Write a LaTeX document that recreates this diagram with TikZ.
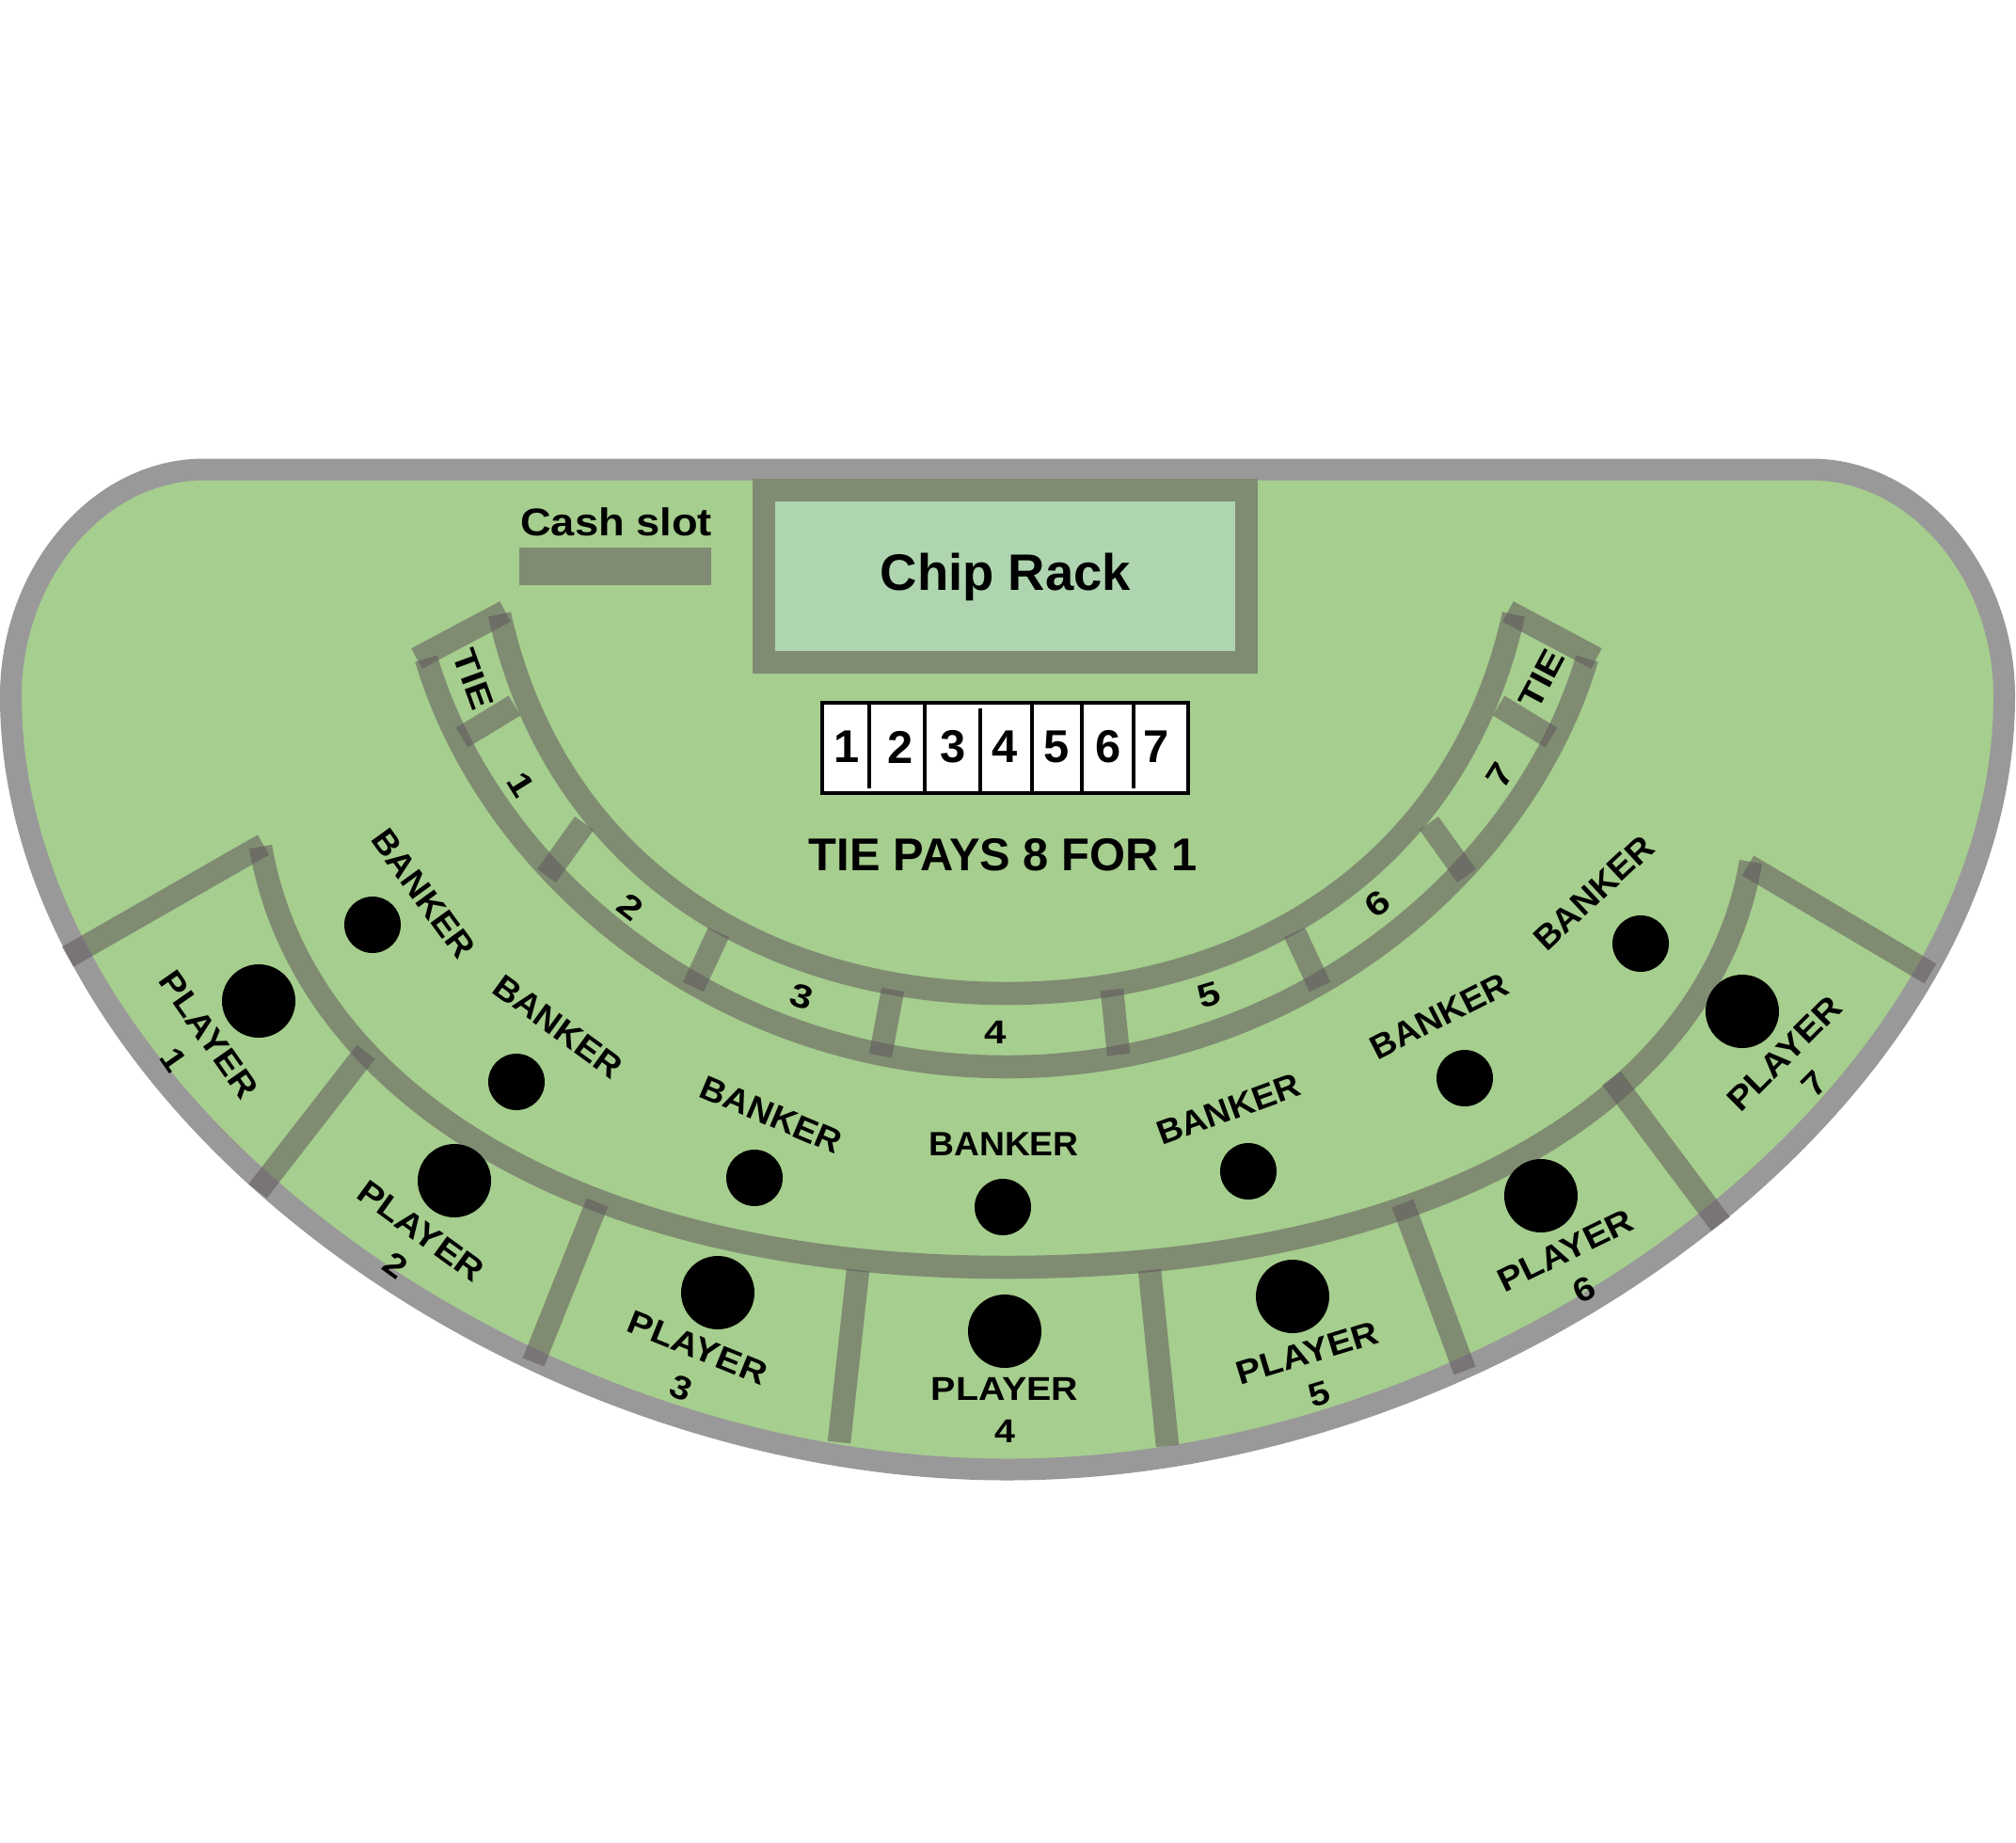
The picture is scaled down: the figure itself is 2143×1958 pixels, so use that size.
\documentclass[tikz,border=0pt]{standalone}
\usepackage{fontspec}
\setmainfont{Liberation Sans}
\newfontfamily\playerfont[FakeStretch=1.12]{Liberation Sans}
\newfontfamily\bankerfont[FakeStretch=1.04]{Liberation Sans}
\newfontfamily\tiefont[FakeStretch=1.2]{Liberation Sans}
\newfontfamily\cashfont[FakeStretch=1.1]{Liberation Sans}
\usepackage{xcolor}
\usetikzlibrary{positioning}

\definecolor{felt}{RGB}{166,206,142}
\definecolor{railgray}{RGB}{153,153,153}
\definecolor{lanegray}{RGB}{96,86,92}
\definecolor{framegray}{RGB}{128,139,115}
\definecolor{rackmint}{RGB}{174,213,176}

\tikzset{
  lane/.style={draw=lanegray,draw opacity=.55,line width=2.45mm},
  player spot/.style={circle,fill=black,minimum size=7.8mm,inner sep=0pt},
  banker spot/.style={circle,fill=black,minimum size=6mm,inner sep=0pt},
  banker label/.style={font=\bankerfont\bfseries\fontsize{10.2}{12}\selectfont,inner sep=0pt},
  player label/.style={font=\playerfont\bfseries\fontsize{10}{13}\selectfont,align=center,inner sep=0pt},
  tie label/.style={font=\tiefont\bfseries\fontsize{10}{12}\selectfont,inner sep=0pt},
  cell/.style={font=\bfseries\fontsize{13.9}{16}\selectfont,inner sep=0pt},
  cell line/.style={line width=.4mm}
}

\begin{document}
\begin{tikzpicture}[x=0.1mm,y=-0.1mm]
\useasboundingbox (0,0) rectangle (2143,1958);
\fill[white] (0,0) rectangle (2143,1958);
\filldraw[fill=felt,draw=railgray,line width=2.3mm] (217,499) -- (1925,499) .. controls (2038,499) and (2130.5,610) .. (2130.5,740) .. controls (2130.5,1165) and (1597,1562) .. (1071,1562) .. controls (545,1562) and (11.5,1165) .. (11.5,740) .. controls (11.5,610) and (104,499) .. (217,499) -- cycle;

\fill[rackmint] (824,533) rectangle (1313,692);
\draw[framegray,line width=2.45mm] (812,521) rectangle (1325,704);
\node[font=\bfseries\fontsize{15.5}{18}\selectfont,anchor=base] (rack) at (1069,627) {Chip Rack};
\fill[framegray] (552,582) rectangle (756,622);
\node[font=\cashfont\bfseries\fontsize{11.7}{14}\selectfont,anchor=base] (cash) at (655,569) {Cash slot};

\draw[cell line,fill=white] (874,747) rectangle (1263,843);
\draw[cell line] (924,747) -- (924,838);
\draw[cell line] (983,747) -- (983,843);
\draw[cell line] (1042,753) -- (1042,843);
\draw[cell line] (1097,747) -- (1097,843);
\draw[cell line] (1150,747) -- (1150,843);
\draw[cell line] (1205,747) -- (1205,838);
\foreach \n/\x in {1/900,2/957,3/1013,4/1068,5/1123,6/1178,7/1229} \node[cell] (cell\n) at (\x,794) {\n};
\node[font=\bfseries\fontsize{13.9}{16}\selectfont,anchor=base] (pays) at (1066,925) {TIE PAYS 8 FOR 1};

\draw[lane] (531,653) .. controls (592,927) and (820,1056) .. (1070,1056) .. controls (1320,1056) and (1548,927) .. (1609,653);
\draw[lane] (453,700) .. controls (522,932) and (767,1134) .. (1070,1134) .. controls (1373,1134) and (1618,932) .. (1687,700);
\draw[lane] (443,700) -- (537,650);
\draw[lane] (1603,650) -- (1697,700);
\draw[lane] (491,784) -- (547,750);
\draw[lane] (581,931) -- (621,875);
\draw[lane] (737,1049) -- (764,991);
\draw[lane] (936,1122) -- (949,1052);
\draw[lane] (1189,1121) -- (1182,1052);
\draw[lane] (1403,1049) -- (1376,991);
\draw[lane] (1559,931) -- (1519,875);
\draw[lane] (1649,784) -- (1593,750);

\node[tie label,rotate=-70] (tieL) at (503,722) {TIE};
\node[tie label,rotate=-58] (tie1) at (554,834) {1};
\node[tie label,rotate=-38] (tie2) at (670,964) {2};
\node[tie label,rotate=-17] (tie3) at (852,1059) {3};
\node[tie label] (tie4) at (1058,1097) {4};
\node[tie label,rotate=17] (tie5) at (1285,1058) {5};
\node[tie label,rotate=38] (tie6) at (1464,961) {6};
\node[tie label,rotate=58] (tie7) at (1594,824) {7};
\node[tie label,rotate=62] (tieR) at (1639,722) {TIE};

\draw[lane] (277,900) .. controls (320,1150) and (600,1347) .. (1070,1347) .. controls (1540,1347) and (1820,1160) .. (1861,916);
\draw[lane] (72,1017) -- (280,898);
\draw[lane] (1858,920) -- (2052,1035);
\draw[lane] (389,1118) -- (274,1266);
\draw[lane] (635,1278) -- (567,1448);
\draw[lane] (912,1350) -- (892,1533);
\draw[lane] (1222,1350) -- (1241,1537);
\draw[lane] (1491,1279) -- (1557,1457);
\draw[lane] (1713,1146) -- (1829,1301);

\node[banker spot] (b1) at (396,983) {};
\node[banker spot] (b2) at (549,1150) {};
\node[banker spot] (b3) at (802,1252) {};
\node[banker spot] (b4) at (1066,1283) {};
\node[banker spot] (b5) at (1327,1245) {};
\node[banker spot] (b6) at (1557,1146) {};
\node[banker spot] (b7) at (1744,1003) {};

\node[banker label,rotate=-54] (bl1) at (450,950) {BANKER};
\node[banker label,rotate=-36] (bl2) at (593,1091) {BANKER};
\node[banker label,rotate=-23] (bl3) at (820,1185) {BANKER};
\node[banker label] (bl4) at (1067,1216) {BANKER};
\node[banker label,rotate=20] (bl5) at (1306,1179) {BANKER};
\node[banker label,rotate=27] (bl6) at (1530,1080) {BANKER};
\node[banker label,rotate=43] (bl7) at (1694,949) {BANKER};

\node[player spot] (p1) at (275,1064) {};
\node[player spot] (p2) at (483,1255) {};
\node[player spot] (p3) at (763,1374) {};
\node[player spot] (p4) at (1068,1415) {};
\node[player spot] (p5) at (1374,1378) {};
\node[player spot] (p6) at (1638,1271) {};
\node[player spot] (p7) at (1852,1075) {};

\node[player label,rotate=-55] (pl1) at (203,1113) {PLAYER\\1};
\node[player label,rotate=-36] (pl2) at (434,1327) {PLAYER\\2};
\node[player label,rotate=-22] (pl3) at (733,1454) {PLAYER\\3};
\node[player label] (pl4) at (1068,1499) {PLAYER\\4};
\node[player label,rotate=17] (pl5) at (1396,1460) {PLAYER\\5};
\node[player label,rotate=26] (pl6) at (1674,1350) {PLAYER\\6};
\node[player label,rotate=45] (pl7) at (1913,1136) {PLAYER\\7};
\end{tikzpicture}
\end{document}
